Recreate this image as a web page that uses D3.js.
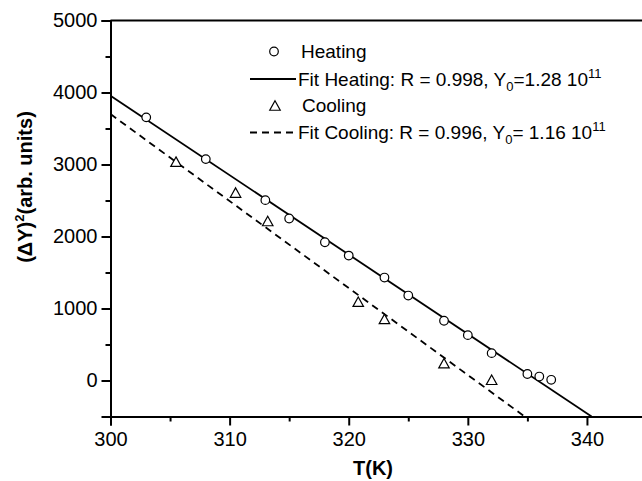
<!DOCTYPE html>
<html>
<head>
<meta charset="utf-8">
<script src="https://cdn.jsdelivr.net/npm/d3@7"></script>
<style>
  body { margin: 0; background: #fff; }
  svg { display: block; font-family: Arial, "Liberation Sans", Helvetica, sans-serif; }
</style>
</head>
<body>
<svg id="chart" width="642" height="481"></svg>
<script>
// ---- data ----
const heatingT = [303, 308, 313, 315, 318, 320, 323, 325, 328, 330, 332, 335, 336, 337];
const heatingY = [3655, 3075, 2505, 2250, 1920, 1735, 1430, 1180, 830, 630, 380, 90, 55, 10];
const coolingT = [305.5, 310.5, 313.2, 320.8, 323, 328, 332];
const coolingY = [3040, 2610, 2215, 1095, 855, 240, 10];
// linear fits: [value at T=300, slope per K]
const fitHeating = [3955, -110.3];
const fitCooling = [3700, -120.8];
const xMajorTicks = [300, 310, 320, 330, 340];
const xMinorTicks = [305, 315, 325, 335, 345];
const yMajorTicks = [0, 1000, 2000, 3000, 4000, 5000];
const yMinorTicks = [-500, 500, 1500, 2500, 3500, 4500];
const xDomain = [300, 345];
const yDomain = [-500, 5000];
const legendLabels = ["Heating", "Fit Heating: R = 0.998, Y", "Cooling", "Fit Cooling: R = 0.996, Y"];

// ---- layout ----
const svg = d3.select("#chart");
const L = 110.5, R = 646.5, T = 20.5, B = 416.5;
const x = d3.scaleLinear().domain(xDomain).range([L, R]);
const y = d3.scaleLinear().domain(yDomain).range([B, T]);

svg.append("defs").append("clipPath").attr("id", "clip")
  .append("rect").attr("x", L).attr("y", T).attr("width", R - L).attr("height", B - T);

// fit lines
function fitLine(fit) {
  const t1 = 300 + (yDomain[0] - fit[0]) / fit[1];
  return [[300, fit[0]], [t1, yDomain[0]]];
}
const line = d3.line().x(d => x(d[0])).y(d => y(d[1]));
const g = svg.append("g").attr("clip-path", "url(#clip)");
g.append("path").attr("d", line(fitLine(fitHeating)))
  .attr("fill", "none").attr("stroke", "#000").attr("stroke-width", 1.8);
g.append("path").attr("d", line(fitLine(fitCooling)))
  .attr("fill", "none").attr("stroke", "#000").attr("stroke-width", 1.8)
  .attr("stroke-dasharray", "7,5");

// markers
function triPath(cx, cy, s) {
  const h = s * 0.9;
  return `M${cx},${cy - h / 2}L${cx + s / 2},${cy + h / 2}L${cx - s / 2},${cy + h / 2}Z`;
}
svg.append("g").selectAll("circle").data(heatingT.map((t, i) => [t, heatingY[i]]))
  .join("circle").attr("cx", d => x(d[0])).attr("cy", d => y(d[1])).attr("r", 4.3)
  .attr("fill", "#fff").attr("stroke", "#000").attr("stroke-width", 1.2);
svg.append("g").selectAll("path").data(coolingT.map((t, i) => [t, coolingY[i]]))
  .join("path").attr("d", d => triPath(x(d[0]), y(d[1]), 10.5))
  .attr("fill", "#fff").attr("stroke", "#000").attr("stroke-width", 1.2);

// axes
const axW = 2;
const xAxis = svg.append("g").attr("transform", `translate(0,${B})`)
  .call(d3.axisBottom(x).tickValues(xMajorTicks).tickSize(9).tickPadding(6).tickFormat(d3.format("d")));
svg.append("g").attr("transform", `translate(0,${B})`)
  .call(d3.axisBottom(x).tickValues(xMinorTicks).tickSize(5).tickFormat(""))
  .call(s => s.select(".domain").remove());
const yAxis = svg.append("g").attr("transform", `translate(${L},0)`)
  .call(d3.axisLeft(y).tickValues(yMajorTicks).tickSize(9).tickPadding(4).tickFormat(d3.format("d")));
svg.append("g").attr("transform", `translate(${L},0)`)
  .call(d3.axisLeft(y).tickValues(yMinorTicks).tickSize(5).tickFormat(""))
  .call(s => s.select(".domain").remove());
svg.selectAll(".tick line").attr("stroke-width", axW);
svg.selectAll(".domain").attr("stroke-width", axW);
svg.selectAll(".tick text").attr("font-size", 20).attr("fill", "#000")
  .attr("font-family", "Arial, 'Liberation Sans', sans-serif");
// top frame line
svg.append("line").attr("x1", L).attr("x2", 642).attr("y1", T).attr("y2", T)
  .attr("stroke", "#000").attr("stroke-width", axW);

// axis titles
svg.append("text").attr("x", 373).attr("y", 475).attr("text-anchor", "middle")
  .attr("font-size", 20).attr("font-weight", "bold").text("T(K)");
const yl = svg.append("text").attr("transform", "translate(32,187) rotate(-90)")
  .attr("text-anchor", "middle").attr("font-size", 20).attr("font-weight", "bold");
yl.append("tspan").text("(ΔY)");
yl.append("tspan").attr("font-size", 13).attr("dy", -8).text("2");
yl.append("tspan").attr("dy", 8).text("(arb. units)");

// legend
const lg = svg.append("g").attr("font-size", 19);
const rows = [58, 85.5, 112, 139];
const symX = 274, lineX0 = 250, lineX1 = 296, textX = 300;
lg.append("circle").attr("cx", symX).attr("cy", rows[0] - 6.5).attr("r", 4.3)
  .attr("fill", "#fff").attr("stroke", "#000").attr("stroke-width", 1.2);
lg.append("text").attr("x", textX + 1).attr("y", rows[0]).text(legendLabels[0]);
lg.append("line").attr("x1", lineX0).attr("x2", lineX1).attr("y1", rows[1] - 6.5).attr("y2", rows[1] - 6.5)
  .attr("stroke", "#000").attr("stroke-width", 1.8);
const t1 = lg.append("text").attr("x", textX - 2).attr("y", rows[1]);
t1.append("tspan").text(legendLabels[1]);
t1.append("tspan").attr("font-size", 13).attr("dy", 5).text("0");
t1.append("tspan").attr("dy", -5).text("=1.28 10");
t1.append("tspan").attr("font-size", 13).attr("dy", -8).text("11");
lg.append("path").attr("d", triPath(symX + 1, rows[2] - 6.5, 10.5))
  .attr("fill", "#fff").attr("stroke", "#000").attr("stroke-width", 1.2);
lg.append("text").attr("x", textX + 2).attr("y", rows[2]).text(legendLabels[2]);
lg.append("line").attr("x1", lineX0).attr("x2", lineX1).attr("y1", rows[3] - 6.5).attr("y2", rows[3] - 6.5)
  .attr("stroke", "#000").attr("stroke-width", 1.8).attr("stroke-dasharray", "7,5");
const t2 = lg.append("text").attr("x", textX - 2).attr("y", rows[3]);
t2.append("tspan").text(legendLabels[3]);
t2.append("tspan").attr("font-size", 13).attr("dy", 5).text("0");
t2.append("tspan").attr("dy", -5).text("= 1.16 10");
t2.append("tspan").attr("font-size", 13).attr("dy", -8).text("11");
</script>
</body>
</html>
